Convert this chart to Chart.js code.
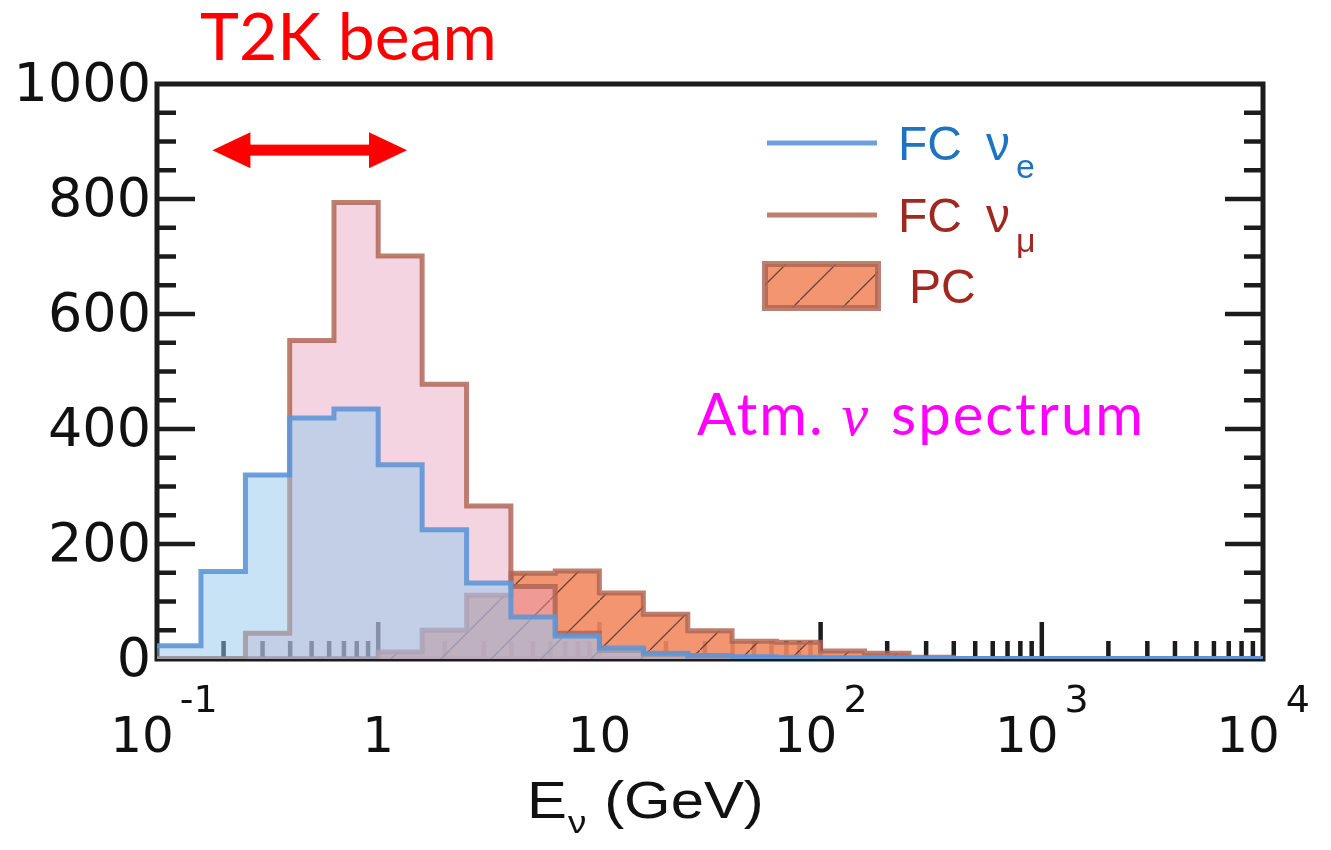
<!DOCTYPE html>
<html lang="en">
  <head>
    <meta charset="UTF-8" />
    <title>Atm. neutrino spectrum</title>
    <script src="https://cdn.jsdelivr.net/npm/chart.js"></script>
    <style>
      html, body { margin: 0; padding: 0; background: #fff; }
    </style>
  </head>
  <body>
    <canvas id="myChart" width="1331" height="850"></canvas>
    <script>
      // bin edges (GeV), 5 log bins per decade
      const binEdges = [0.1, 0.158, 0.251, 0.398, 0.631, 1, 1.58, 2.51, 3.98, 6.31, 10,
        15.8, 25.1, 39.8, 63.1, 100, 158, 251, 398, 631, 1000, 1580, 2510, 3980, 6310, 10000];
      const fcNue = [23, 152, 320, 419, 435, 338, 225, 132, 73, 40, 19, 10, 6, 4, 3,
        2, 2, 1, 1, 1, 1, 1, 1, 1, 1];
      const fcNumu = [0, 0, 45, 554, 794, 701, 478, 266, 126, 45, 15, 8, 4, 2, 1,
        0, 0, 0, 0, 0, 0, 0, 0, 0, 0];
      const pcEvents = [0, 0, 0, 0, 0, 12, 50, 111, 149, 153, 115, 78, 49, 31, 29,
        14, 10, 3, 0, 0, 0, 0, 0, 0, 0];
      const yTicks = [0, 200, 400, 600, 800, 1000];
      const xTicks = [0.1, 1, 10, 100, 1000, 10000];
      const xTickBase = ['10', '1', '10', '10', '10', '10'];
      const xTickExp = ['-1', '', '', '2', '3', '4'];
      const beamRange = [0.178, 1.35];
      const beamLevel = 885;

      const blueLine = 'rgba(95,150,215,0.9)';
      const brownLine = 'rgba(175,100,80,0.82)';

      function steps(vals) {
        const pts = vals.map((v, i) => ({ x: binEdges[i], y: v }));
        pts.push({ x: binEdges[vals.length], y: vals[vals.length - 1] });
        return pts;
      }

      function hatch() {
        const c = document.createElement('canvas');
        c.width = 50; c.height = 50;
        const g = c.getContext('2d');
        g.fillStyle = 'rgba(243,138,98,0.9)';
        g.fillRect(0, 0, 50, 50);
        g.strokeStyle = 'rgba(60,40,40,0.75)';
        g.lineWidth = 1.3;
        g.beginPath(); g.moveTo(-5, 55); g.lineTo(55, -5); g.stroke();
        return g.createPattern(c, 'repeat');
      }
      const pcFill = hatch();

      // frame + inward ticks, under the histograms
      const frame = {
        id: 'frame',
        beforeDatasetsDraw(chart) {
          const { ctx, chartArea: a, scales: { x, y } } = chart;
          ctx.save();
          ctx.strokeStyle = '#1c1c1c';
          ctx.lineWidth = 5;
          ctx.strokeRect(a.left, a.top, a.right - a.left, a.bottom - a.top);
          ctx.lineWidth = 4.5;
          ctx.beginPath();
          for (let v = 50; v < 1000; v += 50) {
            const py = y.getPixelForValue(v);
            const len = v % 200 === 0 ? 38 : 19;
            ctx.moveTo(a.left, py); ctx.lineTo(a.left + len, py);
            ctx.moveTo(a.right, py); ctx.lineTo(a.right - len, py);
          }
          xTicks.forEach((d, i) => {
            if (i === 0 || i === xTicks.length - 1) return;
            const px = x.getPixelForValue(d);
            ctx.moveTo(px, a.bottom); ctx.lineTo(px, a.bottom - 37);
          });
          xTicks.slice(0, -1).forEach(d => {
            for (let m = 2; m < 10; m++) {
              const px = x.getPixelForValue(m * d);
              ctx.moveTo(px, a.bottom); ctx.lineTo(px, a.bottom - 18);
            }
          });
          ctx.stroke();
          ctx.restore();
        }
      };

      // "FC ν" + subscript
      function legendText(ctx, x, y, s, dy) {
        ctx.font = '48px "Liberation Sans"';
        ctx.fillText('FC', x, y);
        let w = ctx.measureText('FC').width + 24;
        ctx.fillText('ν', x + w, y);
        w += ctx.measureText('ν').width + 6;
        ctx.font = '34px "Liberation Sans"';
        ctx.fillText(s, x + w, y + dy);
      }

      const decor = {
        id: 'decor',
        afterDraw(chart) {
          const { ctx, chartArea: a, scales: { x, y } } = chart;
          ctx.save();
          ctx.fillStyle = '#111';
          ctx.textBaseline = 'alphabetic';
          ctx.textAlign = 'left';
          // x tick labels with exponents
          xTicks.forEach((v, i) => {
            const px = x.getPixelForValue(v);
            ctx.font = '50px "DejaVu Sans"';
            const bw = ctx.measureText(xTickBase[i]).width;
            let bx = px - bw / 2;
            if (xTickExp[i]) bx -= 15;
            ctx.fillText(xTickBase[i], bx, 752);
            if (xTickExp[i]) {
              ctx.font = '38px "DejaVu Sans"';
              ctx.fillText(xTickExp[i], bx + bw + 6, 712);
            }
          });
          // axis title, Helvetica look is a bit wide in the original
          ctx.save();
          ctx.translate(527, 818);
          ctx.scale(1.15, 1);
          ctx.font = '52px "Liberation Sans"';
          ctx.fillText('E', 0, 0);
          let tx = ctx.measureText('E').width + 1;
          ctx.font = '32px "Liberation Sans"';
          ctx.fillText('ν', tx, 15);
          tx += ctx.measureText('ν').width + 1;
          ctx.font = '52px "Liberation Sans"';
          ctx.fillText(' (GeV)', tx, 0);
          ctx.restore();

          // legend
          ctx.lineWidth = 5;
          ctx.strokeStyle = blueLine;
          ctx.beginPath(); ctx.moveTo(767, 143); ctx.lineTo(877, 143); ctx.stroke();
          ctx.strokeStyle = brownLine;
          ctx.beginPath(); ctx.moveTo(767, 215); ctx.lineTo(877, 215); ctx.stroke();
          ctx.fillStyle = pcFill;
          ctx.fillRect(765, 264, 113, 44);
          ctx.lineWidth = 6;
          ctx.strokeRect(765, 264, 113, 44);
          ctx.fillStyle = '#1f74c2';
          legendText(ctx, 898, 160, 'e', 18);
          ctx.fillStyle = '#a0291f';
          legendText(ctx, 898, 232, 'μ', 20);
          ctx.font = '48px "Liberation Sans"';
          ctx.fillText('PC', 909, 303);

          // annotations
          ctx.fillStyle = '#ff0000';
          ctx.font = '66px Lato';
          ctx.fillText('T2K beam', 200, 60);
          const x0 = x.getPixelForValue(beamRange[0]);
          const x1 = x.getPixelForValue(beamRange[1]);
          const ay = y.getPixelForValue(beamLevel);
          ctx.fillRect(x0 + 30, ay - 5.5, x1 - x0 - 60, 11);
          ctx.beginPath();
          ctx.moveTo(x0, ay); ctx.lineTo(x0 + 38, ay - 18); ctx.lineTo(x0 + 38, ay + 18); ctx.closePath();
          ctx.moveTo(x1, ay); ctx.lineTo(x1 - 38, ay - 18); ctx.lineTo(x1 - 38, ay + 18); ctx.closePath();
          ctx.fill();

          ctx.fillStyle = '#ff00ff';
          ctx.letterSpacing = '2px';
          ctx.font = '58px Lato';
          let sx = 697;
          ctx.fillText('Atm. ', sx, 435);
          sx += ctx.measureText('Atm. ').width;
          ctx.font = 'italic 60px "Liberation Serif"';
          ctx.fillText('ν', sx, 435);
          sx += ctx.measureText('ν').width + 4;
          ctx.font = '58px Lato';
          ctx.fillText(' spectrum', sx, 435);
          ctx.restore();
        }
      };

      const ctx = document.getElementById('myChart');
      new Chart(ctx, {
        type: 'line',
        data: {
          datasets: [
            {
              label: 'FC νe',
              data: steps(fcNue),
              stepped: 'before',
              borderColor: blueLine,
              backgroundColor: 'rgba(145,199,235,0.5)',
              borderWidth: 5,
              fill: 'origin',
              pointRadius: 0,
              order: 1
            },
            {
              label: 'FC νμ',
              data: steps(fcNumu),
              stepped: 'before',
              borderColor: brownLine,
              backgroundColor: 'rgba(233,159,191,0.45)',
              borderWidth: 5,
              fill: 'origin',
              pointRadius: 0,
              order: 2
            },
            {
              label: 'PC',
              data: steps(pcEvents),
              stepped: 'before',
              borderColor: brownLine,
              backgroundColor: pcFill,
              borderWidth: 5,
              fill: 'origin',
              pointRadius: 0,
              order: 3
            }
          ]
        },
        options: {
          responsive: false,
          animation: false,
          layout: { padding: { left: 0, right: 68, top: 84, bottom: 191 } },
          plugins: { legend: { display: false }, tooltip: { enabled: false } },
          scales: {
            x: { type: 'logarithmic', min: 0.1, max: 10000, display: false },
            y: {
              min: 0,
              max: 1000,
              afterBuildTicks: s => { s.ticks = yTicks.map(v => ({ value: v })); },
              afterFit: s => { s.width = 157; },
              ticks: {
                font: { family: 'DejaVu Sans', size: 54 },
                color: '#111',
                padding: 6,
                labelOffset: 3,
                callback: v => String(v)
              },
              grid: { display: false, drawTicks: false },
              border: { display: false }
            }
          }
        },
        plugins: [frame, decor]
      });
    </script>
  </body>
</html>
